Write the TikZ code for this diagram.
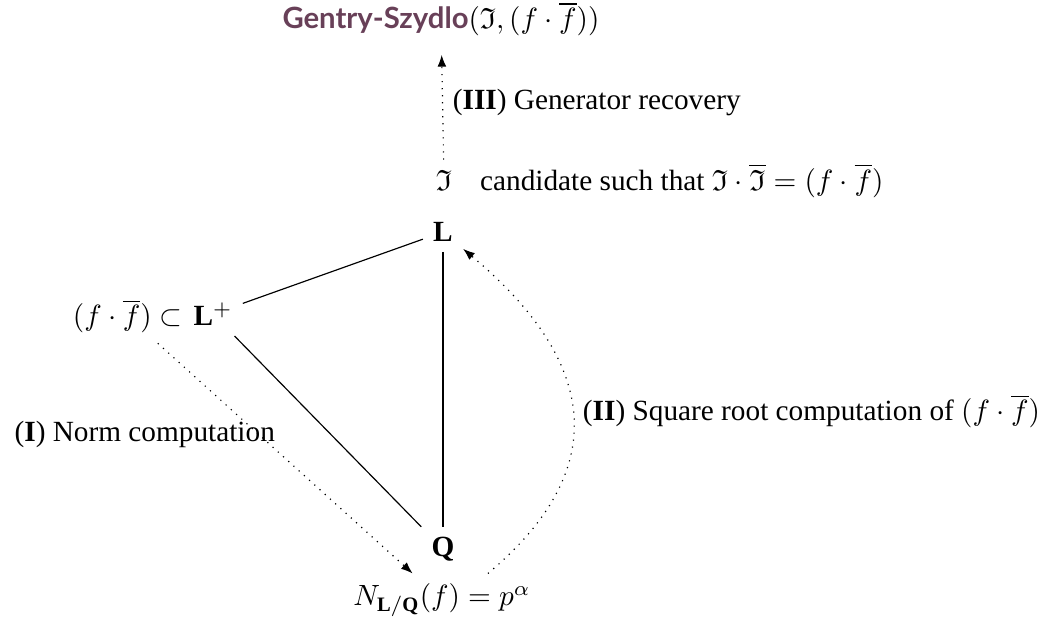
\documentclass[tikz,border=0pt]{standalone}
\usepackage{amssymb}
\usepackage{fontspec}
\setmainfont{Liberation Serif}
\newfontfamily\gsfont{Lato}
\usetikzlibrary{positioning,arrows.meta}
\definecolor{gsplum}{RGB}{104,64,88}
\begin{document}
\begin{tikzpicture}[
    flecha/.style={dotted, -{Latex[length=4pt,width=3pt]}}]
    \useasboundingbox (0,0) rectangle (12.66,7.476);
    % Torre de cuerpos Q < L+ < L y los tres pasos del algoritmo.
    \node (gs) at (5.292,7.248) {{\gsfont\bfseries\color{gsplum}Gentry-Szydlo}$(\mathfrak{I},(f\cdot\overline{f}))$};
    \node (ii) at (5.328,5.316) {$\mathfrak{I}$};
    \node[base right=2.5pt of ii] (cand) {candidate such that $\mathfrak{I}\cdot\overline{\mathfrak{I}}=(f\cdot\overline{f})$};
    \node (L) at (5.316,4.692) {$\mathbf{L}$};
    \node (Lp) at (2.556,3.708) {$\mathbf{L}^+$};
    \node[base left=-3.4pt of Lp] (ff) {$(f\cdot\overline{f})\subset$};
    \node (Q) at (5.316,0.888) {$\mathbf{Q}$};
    \node (N) at (5.304,0.276) {$N_{\mathbf{L}/\mathbf{Q}}(f)=p^{\alpha}$};
    \draw (Lp) -- (L);
    \draw (Lp) -- (Q);
    \draw (L) -- (Q);
    \draw[flecha, shorten >=3pt] (ii) -- node[midway, right] {(\textbf{III}) Generator recovery} (gs);
    \draw[flecha] (ff) -- node[midway, above left] {(\textbf{I}) Norm computation} (N);
    \draw[flecha] (N.30) to[out=40, in=-40, looseness=1.33]
        node[midway, right] {(\textbf{II}) Square root computation of $(f\cdot\overline{f})$} (L.-40);
\end{tikzpicture}
\end{document}
